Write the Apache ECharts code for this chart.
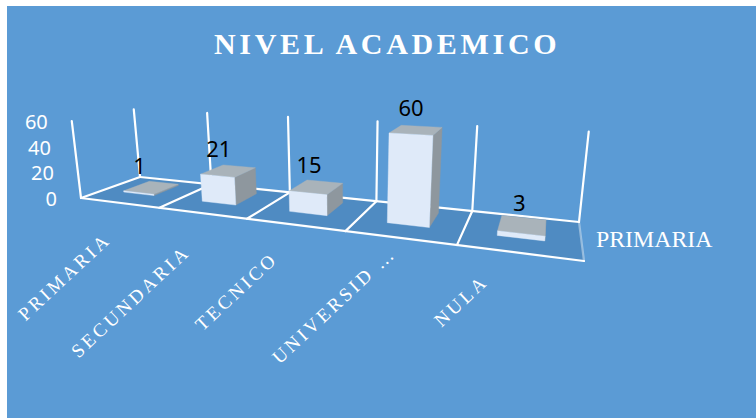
<!DOCTYPE html>
<html>
<head>
<meta charset="utf-8">
<style>
  html, body { margin: 0; padding: 0; background: #fff; }
  #chart { width: 756px; height: 418px; }
  /* Spaced serif lettering for the title and the category names */
  #chart text[style*="bold"] { letter-spacing: 3.7px; }
  #chart text[style*="19px"] { letter-spacing: 3.2px; }
</style>
<script src="https://cdn.jsdelivr.net/npm/echarts@6/dist/echarts.min.js"></script>
</head>
<body>
<div id="chart"></div>
<script>
const categories = ['PRIMARIA', 'SECUNDARIA', 'TECNICO', 'UNIVERSID …', 'NULA'];
const values = [1, 21, 15, 60, 3];
const yTicks = [0, 20, 40, 60];
const seriesName = 'PRIMARIA';
const chartTitle = 'NIVEL ACADEMICO';

// Where each rotated category name begins
const nameAnchors = [[21, 317], [74, 354], [198, 327], [275, 360], [437, 323]];

// Scene calibration: floor corners and wall tops in screen space
const FLOOR = [[81, 198], [584, 261], [579, 222], [140, 177]];
const TOPS = [[0, 0, 71, 121], [0, 1, 135, 108], [0.2, 1, 207, 112], [0.4, 1, 288, 117],
              [0.6, 1, 377, 122], [0.8, 1, 477, 127], [1, 1, 589, 133]];
const U_EASE = 0.05;

const GRID = { left: 0, top: 0, width: 500, height: 100 };

function floorMatrix(q) {
  const [x0, y0] = q[0], [x1, y1] = q[1], [x2, y2] = q[2], [x3, y3] = q[3];
  const dx1 = x1 - x2, dx2 = x3 - x2, sx = x0 - x1 + x2 - x3;
  const dy1 = y1 - y2, dy2 = y3 - y2, sy = y0 - y1 + y2 - y3;
  const den = dx1 * dy2 - dx2 * dy1;
  const g = (sx * dy2 - dx2 * sy) / den, h = (dx1 * sy - sx * dy1) / den;
  return [x1 - x0 + g * x1, x3 - x0 + h * x3, x0,
          y1 - y0 + g * y1, y3 - y0 + h * y3, y0, g, h, 1];
}
const M = floorMatrix(FLOOR);
// The small ease softens the foreshortening along the category direction
function floorHom(u0, v) {
  const u = u0 + U_EASE * u0 * (1 - u0);
  return [M[0] * u + M[1] * v + M[2], M[3] * u + M[4] * v + M[5], M[6] * u + M[7] * v + M[8]];
}

// Least-squares fit of the homogeneous "up" vector from the wall tops
function fitUp() {
  const A = [[0, 0, 0, 0], [0, 0, 0, 0], [0, 0, 0, 0]];
  const add = (row, rhs) => {
    for (let i = 0; i < 3; i++) {
      for (let j = 0; j < 3; j++) A[i][j] += row[i] * row[j];
      A[i][3] += row[i] * rhs;
    }
  };
  TOPS.forEach(([u, v, x, y]) => {
    const b = floorHom(u, v);
    add([1, 0, -x], x * b[2] - b[0]);
    add([0, 1, -y], y * b[2] - b[1]);
  });
  for (let i = 0; i < 3; i++) {
    let p = i;
    for (let r = i + 1; r < 3; r++) if (Math.abs(A[r][i]) > Math.abs(A[p][i])) p = r;
    [A[i], A[p]] = [A[p], A[i]];
    for (let r = 0; r < 3; r++) {
      if (r === i) continue;
      const f = A[r][i] / A[i][i];
      for (let c = i; c < 4; c++) A[r][c] -= f * A[i][c];
    }
  }
  return [A[0][3] / A[0][0], A[1][3] / A[1][1], A[2][3] / A[2][2]];
}
const UP = fitUp();

// u: along the categories, v: depth, h: height, all 0..1
function project(u, v, h) {
  const b = floorHom(u, v);
  const w = b[2] + h * UP[2];
  return [(b[0] + h * UP[0]) / w, (b[1] + h * UP[1]) / w];
}

// Hidden cartesian scales give normalised scene coordinates
const sceneU = (px) => (px - GRID.left) / GRID.width;
const sceneH = (py) => (GRID.top + GRID.height - py) / GRID.height;

const WHITE = '#ffffff';
function line(a, b, width, opacity) {
  return {
    type: 'line',
    shape: { x1: a[0], y1: a[1], x2: b[0], y2: b[1] },
    style: { stroke: WHITE, lineWidth: width, opacity: opacity == null ? 1 : opacity, lineCap: 'round' }
  };
}
function poly(points, fill) {
  return { type: 'polygon', shape: { points }, style: { fill, stroke: fill, lineWidth: 0.4 } };
}

function renderFrame(params, api) {
  const band = api.size([1, 0])[0];
  const start = api.coord([0, 0])[0] - band / 2;
  const edges = categories.map((c, i) => sceneU(start + i * band)).concat(sceneU(start + categories.length * band));
  const top = sceneH(api.coord([0, yTicks[yTicks.length - 1]])[1]);
  const kids = [];
  kids.push(poly([project(0, 0, 0), project(1, 0, 0), project(1, 1, 0), project(0, 1, 0)], '#4F8BC2'));
  kids.push(line(project(0, 0, 0), project(0, 0, top), 2.2));
  edges.forEach((u, i) => {
    kids.push(line(project(u, 1, 0), project(u, 1, top), 2.2));
    if (i < edges.length - 1) kids.push(line(project(u, 0, 0), project(u, 1, 0), 2.2));
  });
  kids.push(line(project(0, 0, 0), project(1, 0, 0), 2.2));
  kids.push(line(project(0, 1, 0), project(1, 1, 0), 2.2));
  kids.push(line(project(1, 0, 0), project(1, 1, 0), 2.2, 0.4));
  // Value-axis numbers follow the leaning front-left post
  yTicks.forEach((t) => {
    const p = project(0, 0, sceneH(api.coord([0, t])[1]));
    kids.push({
      type: 'text', x: p[0] - 24, y: p[1],
      style: { text: String(t), fill: WHITE, font: '20px "Noto Sans"', align: 'right', verticalAlign: 'middle' }
    });
  });
  return { type: 'group', children: kids };
}

function renderBar(params, api) {
  const i = api.value(0), val = api.value(1);
  const band = api.size([1, 0])[0];
  const pt = api.coord([i, val]);
  // Bars sit slightly left of centre, most of all at the far end of the row
  const drift = 0.006 * (1 - i / (categories.length - 1));
  const uc = sceneU(pt[0]) - drift, hw = 0.2 * band / GRID.width, h = sceneH(pt[1]);
  const v0 = 0.36, v1 = 0.82;
  const P = (u, v, z) => project(u, v, z);
  const l = uc - hw, r = uc + hw;
  const kids = [];
  if (P(r, v1, h)[0] > P(r, v0, h)[0]) kids.push(poly([P(r, v0, 0), P(r, v1, 0), P(r, v1, h), P(r, v0, h)], '#8E979E'));
  kids.push(poly([P(l, v0, h), P(r, v0, h), P(r, v1, h), P(l, v1, h)], '#A9B3BA'));
  kids.push(poly([P(l, v0, 0), P(r, v0, 0), P(r, v0, h), P(l, v0, h)], '#DFEAF9'));
  const c = P(uc, (v0 + v1) / 2, h);
  kids.push({
    type: 'text', x: c[0] - 12 + 9 * i / (categories.length - 1), y: c[1] - 23,
    style: { text: String(val), fill: '#000000', font: '22px "Noto Sans"', align: 'center', verticalAlign: 'middle' }
  });
  return { type: 'group', children: kids };
}

function renderName(params, api) {
  const i = api.value(0);
  return {
    type: 'text', x: nameAnchors[i][0], y: nameAnchors[i][1], rotation: 43 * Math.PI / 180,
    style: { text: categories[i], fill: WHITE, font: '19px "Liberation Serif"', align: 'left', verticalAlign: 'middle' }
  };
}

const rows = categories.map((c, i) => [i, values[i]]);
const chart = echarts.init(document.getElementById('chart'), null, { renderer: 'svg', width: 756, height: 418 });
chart.setOption({
  animation: false,
  backgroundColor: '#ffffff',
  title: {
    text: chartTitle, left: 214, top: 28, padding: 0,
    textStyle: { color: WHITE, fontFamily: 'Liberation Serif', fontWeight: 'bold', fontSize: 30 }
  },
  graphic: [
    { type: 'rect', z: -10, shape: { x: 7, y: 6, width: 749, height: 412 }, style: { fill: '#5B9BD5' } },
    { type: 'text', x: 596, y: 239, style: { text: seriesName, fill: WHITE, font: '23.8px "Liberation Serif"', verticalAlign: 'middle' } }
  ],
  grid: GRID,
  xAxis: { type: 'category', data: categories, show: false },
  yAxis: { type: 'value', min: 0, max: 60, interval: 20, show: false },
  series: [
    { type: 'custom', name: 'frame', data: [[0, 0]], renderItem: renderFrame, silent: true, z: 1 },
    { type: 'custom', name: seriesName, data: rows, renderItem: renderBar, encode: { x: 0, y: 1 }, z: 2 },
    { type: 'custom', name: 'names', data: rows, renderItem: renderName, encode: { x: 0, y: 1 }, silent: true, z: 3 }
  ]
});
</script>
</body>
</html>
